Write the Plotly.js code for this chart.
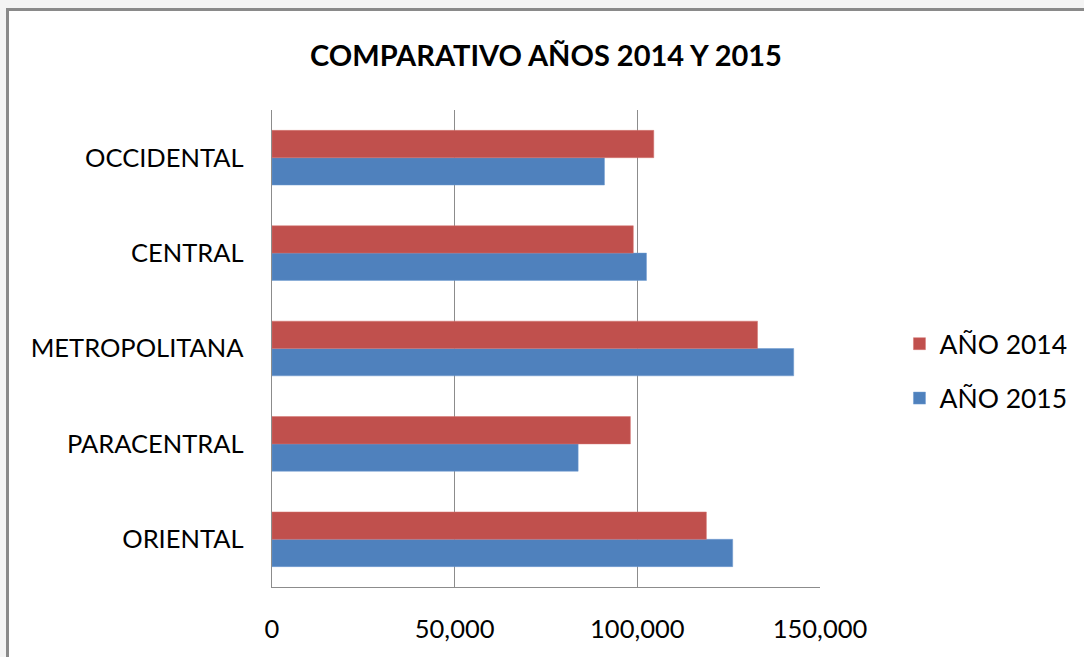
<!DOCTYPE html>
<html>
<head>
<meta charset="utf-8">
<script src="https://cdn.plot.ly/plotly-3.0.1.min.js"></script>
<style>
html,body{margin:0;padding:0;background:#f4f4f4;width:1084px;height:657px;overflow:hidden;}
#frame{position:absolute;left:6px;top:8px;width:1075px;height:646px;border-top:3px solid #8a8a8a;border-left:3px solid #8a8a8a;background:#fff;}
#chart{width:1075px;height:646px;}
</style>
</head>
<body>
<div id="frame"><div id="chart"></div></div>
<script>
// Categories listed bottom-to-top (Plotly draws the first category at the bottom)
var regions = ["ORIENTAL", "PARACENTRAL", "METROPOLITANA", "CENTRAL", "OCCIDENTAL"];
var values2014 = [118900, 98100, 132900, 98900, 104500];
var values2015 = [126100, 83800, 142800, 102500, 91000];
var xTicks = [0, 50000, 100000, 150000];
var xTickLabels = ["0", "50,000", "100,000", "150,000"];

var FONT = "Lato, 'Open Sans', sans-serif";

var traces = [
  {
    type: "bar", orientation: "h", name: "AÑO 2015",
    y: regions, x: values2015,
    marker: {color: "#4F81BD", line: {color: "#6f9bd0", width: 0.5}},
    legendgroup: "b", legendrank: 2, hoverinfo: "x+name"
  },
  {
    type: "bar", orientation: "h", name: "AÑO 2014",
    y: regions, x: values2014,
    marker: {color: "#C0504D", line: {color: "#d47470", width: 0.5}},
    legendgroup: "a", legendrank: 1, hoverinfo: "x+name"
  }
];

var layout = {
  width: 1075, height: 646,
  paper_bgcolor: "#ffffff", plot_bgcolor: "#ffffff",
  margin: {l: 263, r: 264, t: 99, b: 70, pad: 0},
  barmode: "group", bargap: 0.427, bargroupgap: 0,
  title: {
    text: "<b>COMPARATIVO AÑOS 2014 Y 2015</b>",
    font: {family: FONT, size: 29, color: "#000"},
    x: 0.5, xanchor: "center", xref: "paper",
    y: 0.93, yanchor: "middle"
  },
  font: {family: FONT, color: "#000"},
  xaxis: {
    range: [0, 150000], tickvals: xTicks, ticktext: xTickLabels,
    showgrid: true, gridcolor: "#8c8c8c", gridwidth: 1.3,
    zeroline: false, showline: true, linecolor: "#8c8c8c", linewidth: 1.3,
    ticks: "", ticklabelstandoff: 19,
    tickfont: {family: FONT, size: 25.5, color: "#000"},
    fixedrange: true
  },
  yaxis: {
    type: "category", showgrid: false, zeroline: false,
    showline: true, linecolor: "#8c8c8c", linewidth: 1.3,
    ticks: "", ticklabelstandoff: 22,
    tickfont: {family: FONT, size: 25.5, color: "#000"},
    fixedrange: true
  },
  showlegend: true,
  legend: {
    x: 1.145, xanchor: "left", y: 0.453, yanchor: "middle",
    traceorder: "grouped", tracegroupgap: 17,
    font: {family: FONT, size: 26.5, color: "#000"},
    bgcolor: "rgba(0,0,0,0)", borderwidth: 0, itemwidth: 30
  }
};

Plotly.newPlot("chart", traces, layout, {displayModeBar: false, staticPlot: true});
</script>
</body>
</html>
